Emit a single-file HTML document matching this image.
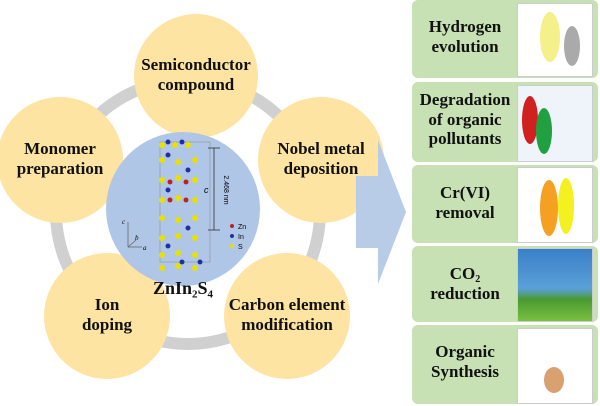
<!DOCTYPE html>
<html><head><meta charset="utf-8"><style>
body{margin:0;width:600px;height:406px;background:#fff;overflow:hidden;position:relative;font-family:"Liberation Serif",serif;}
.t{position:absolute;font-weight:bold;color:#111;text-align:center;line-height:1.15;}
sub{line-height:0;vertical-align:-0.3em;}
.box{position:absolute;left:412px;width:186px;background:#c7e0b4;border-radius:6px;}
.img{position:absolute;left:517px;width:74px;background:#fff;border:1px solid #ccc;}
</style></head><body>
<svg width="600" height="406" style="position:absolute;left:0;top:0">
<circle cx="188" cy="212" r="132" fill="none" stroke="#d0d0d0" stroke-width="12"/>
<g fill="#fde4a3">
<circle cx="196" cy="76" r="62"/>
<circle cx="321" cy="160" r="63"/>
<circle cx="60" cy="160" r="63"/>
<circle cx="107" cy="316" r="63"/>
<circle cx="287" cy="316" r="63"/>
</g>
<circle cx="183" cy="209" r="77" fill="#b0c6e6"/>
<polygon points="356,176 378,176 378,140 406,212 378,284 378,248 356,248" fill="#b8cce8"/>
<g>
<rect x="160" y="142" width="50" height="120" fill="none" stroke="#888" stroke-width="0.5"/>
<g fill="#e8e000">
<circle cx="162" cy="145" r="3"/><circle cx="175" cy="145" r="3"/><circle cx="188" cy="145" r="3"/>
<circle cx="162" cy="160" r="3"/><circle cx="178" cy="162" r="3"/><circle cx="195" cy="160" r="3"/>
<circle cx="162" cy="180" r="3"/><circle cx="178" cy="178" r="3"/><circle cx="195" cy="180" r="3"/>
<circle cx="162" cy="200" r="3"/><circle cx="178" cy="198" r="3"/><circle cx="195" cy="200" r="3"/>
<circle cx="162" cy="218" r="3"/><circle cx="178" cy="220" r="3"/><circle cx="195" cy="218" r="3"/>
<circle cx="162" cy="238" r="3"/><circle cx="178" cy="236" r="3"/><circle cx="195" cy="238" r="3"/>
<circle cx="162" cy="255" r="3"/><circle cx="178" cy="253" r="3"/><circle cx="195" cy="255" r="3"/>
<circle cx="162" cy="268" r="3"/><circle cx="178" cy="266" r="3"/><circle cx="195" cy="268" r="3"/>
</g>
<g fill="#2030a0">
<circle cx="168" cy="142" r="2.5"/><circle cx="182" cy="142" r="2.5"/><circle cx="168" cy="155" r="2.5"/><circle cx="188" cy="170" r="2.5"/><circle cx="168" cy="190" r="2.5"/><circle cx="188" cy="228" r="2.5"/><circle cx="168" cy="246" r="2.5"/><circle cx="182" cy="262" r="2.5"/><circle cx="200" cy="262" r="2.5"/>
</g>
<g fill="#c02020">
<circle cx="170" cy="182" r="2.5"/><circle cx="186" cy="182" r="2.5"/><circle cx="170" cy="200" r="2.5"/><circle cx="186" cy="200" r="2.5"/>
</g>
<line x1="214" y1="148" x2="214" y2="230" stroke="#333" stroke-width="0.8"/>
<line x1="208" y1="148" x2="220" y2="148" stroke="#333" stroke-width="0.8"/>
<line x1="208" y1="230" x2="220" y2="230" stroke="#333" stroke-width="0.8"/>
<text x="204" y="193" font-family="Liberation Sans" font-style="italic" font-size="9">c</text>
<text x="224" y="190" font-family="Liberation Sans" font-size="7" transform="rotate(90 224 190)" text-anchor="middle">2.468 nm</text>
<circle cx="232" cy="226" r="2" fill="#c02020"/><text x="238" y="229" font-family="Liberation Sans" font-size="7">Zn</text>
<circle cx="232" cy="236" r="2" fill="#2030a0"/><text x="238" y="239" font-family="Liberation Sans" font-size="7">In</text>
<circle cx="232" cy="246" r="2" fill="#e8e000"/><text x="238" y="249" font-family="Liberation Sans" font-size="7">S</text>
<line x1="128" y1="247" x2="128" y2="222" stroke="#666" stroke-width="0.8"/>
<line x1="128" y1="247" x2="142" y2="247" stroke="#666" stroke-width="0.8"/>
<line x1="128" y1="247" x2="136" y2="240" stroke="#666" stroke-width="0.8"/>
<text x="122" y="224" font-size="7" font-style="italic">c</text>
<text x="135" y="240" font-size="7" font-style="italic">b</text>
<text x="143" y="250" font-size="7" font-style="italic">a</text>
</g>
</svg>
<div class="t" style="left:123px;top:278px;width:120px;font-size:18px;line-height:20px">ZnIn<sub style="font-size:11px">2</sub>S<sub style="font-size:11px">4</sub></div>
<div class="t" style="left:136px;top:55px;width:120px;font-size:17px">Semiconductor<br>compound</div>
<div class="t" style="left:261px;top:139px;width:120px;font-size:17px">Nobel metal<br>deposition</div>
<div class="t" style="left:0px;top:139px;width:120px;font-size:17px">Monomer<br>preparation</div>
<div class="t" style="left:47px;top:295px;width:120px;font-size:17px">Ion<br>doping</div>
<div class="t" style="left:220px;top:295px;width:134px;font-size:17px">Carbon element<br>modification</div>

<div class="box" style="top:0;height:78px"></div>
<div class="box" style="top:82px;height:80px"></div>
<div class="box" style="top:165px;height:78px"></div>
<div class="box" style="top:246px;height:76px"></div>
<div class="box" style="top:325px;height:79px"></div>

<div class="t" style="left:412px;top:17px;width:106px;font-size:17px">Hydrogen<br>evolution</div>
<div class="t" style="left:412px;top:90px;width:106px;font-size:17px">Degradation<br>of organic<br>pollutants</div>
<div class="t" style="left:412px;top:183px;width:106px;font-size:17px">Cr(VI)<br>removal</div>
<div class="t" style="left:412px;top:264px;width:106px;font-size:17px">CO<sub style="font-size:10px">2</sub><br>reduction</div>
<div class="t" style="left:412px;top:342px;width:106px;font-size:17px">Organic<br>Synthesis</div>

<div class="img" style="top:3px;height:72px"><div style="position:absolute;left:22px;top:8px;width:20px;height:50px;border-radius:50%;background:#f4f08a"></div><div style="position:absolute;left:46px;top:22px;width:16px;height:40px;border-radius:50%;background:#aaa"></div></div>
<div class="img" style="top:85px;height:75px;background:#eef4fa"><div style="position:absolute;left:4px;top:10px;width:16px;height:48px;border-radius:50%;background:#d02020"></div><div style="position:absolute;left:18px;top:22px;width:16px;height:46px;border-radius:50%;background:#20a040"></div></div>
<div class="img" style="top:167px;height:74px"><div style="position:absolute;left:22px;top:12px;width:18px;height:56px;border-radius:50%;background:#f5a020"></div><div style="position:absolute;left:40px;top:10px;width:16px;height:56px;border-radius:50%;background:#f5f020"></div></div>
<div class="img" style="top:248px;height:72px;background:linear-gradient(#3a80c8 0%,#5aa0d8 55%,#4a9a30 70%,#7ac040 100%)"></div>
<div class="img" style="top:328px;height:74px"><div style="position:absolute;left:26px;top:38px;width:20px;height:26px;border-radius:50%;background:#d9a070"></div></div>
</body></html>
